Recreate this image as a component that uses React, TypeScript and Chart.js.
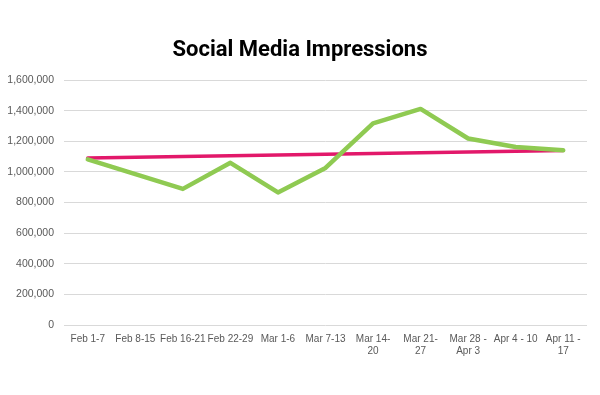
import React, { useEffect, useRef } from "react";
import { Chart, registerables } from "chart.js";

Chart.register(...registerables);

const titleText = "Social Media Impressions";

const categories: (string | string[])[] = [
  "Feb 1-7",
  "Feb 8-15",
  "Feb 16-21",
  "Feb 22-29",
  "Mar 1-6",
  "Mar 7-13",
  ["Mar 14-", "20"],
  ["Mar 21-", "27"],
  ["Mar 28 -", "Apr 3"],
  "Apr 4 - 10",
  ["Apr 11 -", "17"],
];

const impressions = [
  1082000, 985000, 889000, 1059000, 866000, 1026000, 1317000, 1411000, 1218000,
  1162000, 1141000,
];

const trend = [
  1091000, null, null, null, null, null, null, null, null, null, 1140000,
];

const yTicks = { min: 0, max: 1600000, step: 200000 };

const centeredTitle = {
  id: "centeredTitle",
  afterDraw(chart: any) {
    const ctx = chart.ctx;
    ctx.save();
    ctx.font = "bold 22px Roboto";
    ctx.fillStyle = "#000000";
    ctx.textAlign = "center";
    ctx.textBaseline = "middle";
    ctx.fillText(titleText, chart.width / 2, 50);
    ctx.restore();
  },
};

export default function App() {
  const ref = useRef<HTMLCanvasElement | null>(null);

  useEffect(() => {
    if (!ref.current) return;
    const chart = new Chart(ref.current, {
      type: "line",
      data: {
        labels: categories,
        datasets: [
          {
            label: "Impressions",
            data: impressions,
            borderColor: "#8fca52",
            borderWidth: 4.5,
            pointRadius: 0,
            tension: 0,
            fill: false,
            borderJoinStyle: "round",
            borderCapStyle: "round",
          },
          {
            label: "Trend",
            data: trend,
            borderColor: "#e2186a",
            borderWidth: 3.5,
            pointRadius: 0,
            spanGaps: true,
            fill: false,
            borderCapStyle: "round",
          },
        ],
      },
      options: {
        animation: false,
        responsive: false,
        maintainAspectRatio: false,
        layout: { padding: { left: 0, right: 13, top: 80, bottom: 0 } },
        plugins: {
          legend: { display: false },
          tooltip: { enabled: false },
          title: { display: false },
        },
        scales: {
          x: {
            offset: true,
            grid: { display: false, drawTicks: false, offset: true },
            border: { display: false },
            ticks: {
              color: "#595959",
              font: { family: "Liberation Sans", size: 10 },
              maxRotation: 0,
              minRotation: 0,
              autoSkip: false,
              padding: 8,
            },
            afterFit: (s: any) => {
              s.height = 70;
            },
          },
          y: {
            min: yTicks.min,
            max: yTicks.max,
            grid: { color: "#d9d9d9", lineWidth: 1, drawTicks: false },
            border: { display: false },
            ticks: {
              stepSize: yTicks.step,
              color: "#595959",
              font: { family: "Liberation Sans", size: 10.5 },
              padding: 10,
              callback: (v: any) => Number(v).toLocaleString("en-US"),
            },
            afterFit: (s: any) => {
              s.width = 64;
            },
          },
        },
      },
      plugins: [centeredTitle],
    });
    return () => chart.destroy();
  }, []);

  return (
    <div
      style={{
        position: "fixed",
        left: 0,
        top: 0,
        width: 600,
        height: 395,
        background: "#ffffff",
      }}
    >
      <canvas ref={ref} width={600} height={395} style={{ width: 600, height: 395 }} />
    </div>
  );
}
